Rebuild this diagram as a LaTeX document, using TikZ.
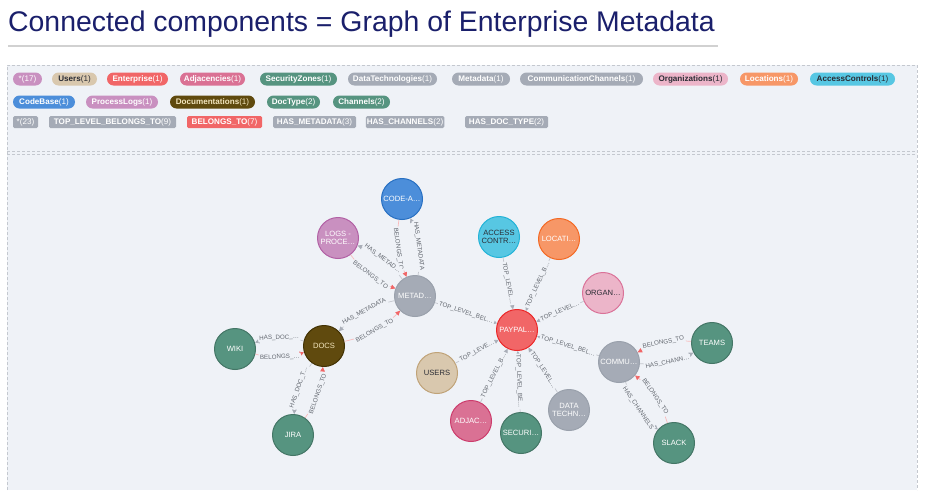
\documentclass[tikz,border=0pt]{standalone}
\usepackage{fontspec}
\setmainfont{Liberation Sans}
\usetikzlibrary{arrows.meta,calc}
\definecolor{panelbg}{HTML}{EFF2F7}
\definecolor{dashc}{HTML}{C4C8CF}
\definecolor{titleblue}{HTML}{1A1F6B}
\definecolor{cpurple}{HTML}{C990C0}\definecolor{cpurpleb}{HTML}{B261A5}
\definecolor{ctan}{HTML}{D9C8AE}\definecolor{ctanb}{HTML}{C0A378}
\definecolor{cred}{HTML}{F16667}\definecolor{credb}{HTML}{EB2728}
\definecolor{crose}{HTML}{DA7194}\definecolor{croseb}{HTML}{CC3C6C}
\definecolor{cgreen}{HTML}{569480}\definecolor{cgreenb}{HTML}{447666}
\definecolor{cgray}{HTML}{A5ABB6}\definecolor{cgrayb}{HTML}{9AA1AC}
\definecolor{cpink}{HTML}{ECB5C9}\definecolor{cpinkb}{HTML}{DA7298}
\definecolor{corange}{HTML}{F79767}\definecolor{corangeb}{HTML}{F36924}
\definecolor{ccyan}{HTML}{57C7E3}\definecolor{ccyanb}{HTML}{23B3D7}
\definecolor{cblue}{HTML}{4C8EDA}\definecolor{cblueb}{HTML}{2870C2}
\definecolor{cbrown}{HTML}{604A0E}\definecolor{cbrownb}{HTML}{423204}
\definecolor{darktxt}{HTML}{2A2C34}
\definecolor{creamtxt}{HTML}{F3E6BE}
\definecolor{lblgray}{HTML}{62676F}
\definecolor{edgegray}{HTML}{A9AEB8}
\begin{document}
\begin{tikzpicture}[x=1pt,y=-1pt,
  pill/.style={rounded corners=6.5pt, minimum height=13pt, inner xsep=1pt, inner ysep=0pt,
    font=\fontsize{8.1}{9}\selectfont, text=white},
  relbox/.style={rounded corners=1.5pt, minimum height=12pt, inner xsep=1pt, inner ysep=0pt,
    fill=cgray, font=\fontsize{8.1}{9}\selectfont, text=white},
  gnode/.style={circle, minimum size=41pt, inner sep=0pt, line width=1pt,
    font=\fontsize{7.6}{8.6}\selectfont, align=center, text=white},
  elbl/.style={sloped, midway, fill=panelbg, inner sep=1.2pt,
    font=\fontsize{6.2}{7}\selectfont, text=lblgray},
  edg/.style={draw=edgegray!70, line width=0.7pt, -{Triangle[length=4.5pt,width=4.5pt,color=edgegray]}},
  bel/.style={draw=cred!45, line width=0.7pt, -{Triangle[length=4.5pt,width=4.5pt,color=cred]}},
  dashline/.style={draw=dashc, line width=0.8pt, dash pattern=on 3pt off 2pt}]
\useasboundingbox (0,0) rectangle (950,490);
\fill[white] (0,0) rectangle (950,490);
\fill[panelbg] (7,65) rectangle (917,490);
\draw[dashline] (7,490) -- (7,65) -- (917,65) -- (917,490);
\draw[dashline] (7,151) -- (917,151);
\draw[dashline] (7,154) -- (917,154);
% title
\node[anchor=west, inner sep=0pt, text=titleblue, font=\fontsize{28.4}{32}\selectfont] (title) at (8,24) {Connected components = Graph of Enterprise Metadata};
\draw[black!18, line width=1.5pt] (8,46) -- (718,46);
% legend row 1
\node[pill, fill=cpurple, minimum width=29pt] (l1) at (27.5,79) {*(17)};
\node[pill, fill=ctan, text=darktxt, minimum width=45pt] (l2) at (74.5,79) {\textbf{Users}(1)};
\node[pill, fill=cred, minimum width=61pt] (l3) at (137.5,79) {\textbf{Enterprise}(1)};
\node[pill, fill=crose, minimum width=65pt] (l4) at (212.5,79) {\textbf{Adjacencies}(1)};
\node[pill, fill=cgreen, minimum width=77pt] (l5) at (298.5,79) {\textbf{SecurityZones}(1)};
\node[pill, fill=cgray, minimum width=89pt] (l6) at (392.5,79) {\textbf{DataTechnologies}(1)};
\node[pill, fill=cgray, minimum width=58pt] (l7) at (481,79) {\textbf{Metadata}(1)};
\node[pill, fill=cgray, minimum width=123pt] (l8) at (581.5,79) {\textbf{CommunicationChannels}(1)};
\node[pill, fill=cpink, text=darktxt, minimum width=75pt] (l9) at (690.5,79) {\textbf{Organizations}(1)};
\node[pill, fill=corange, minimum width=58pt] (l10) at (769,79) {\textbf{Locations}(1)};
\node[pill, fill=ccyan, text=darktxt, minimum width=85pt] (l11) at (852.5,79) {\textbf{AccessControls}(1)};
% legend row 2
\node[pill, fill=cblue, minimum width=62pt] (l12) at (44,102) {\textbf{CodeBase}(1)};
\node[pill, fill=cpurple, minimum width=72pt] (l13) at (122,102) {\textbf{ProcessLogs}(1)};
\node[pill, fill=cbrown, text=creamtxt, minimum width=85pt] (l14) at (212.5,102) {\textbf{Documentations}(1)};
\node[pill, fill=cgreen, minimum width=53pt] (l15) at (293.5,102) {\textbf{DocType}(2)};
\node[pill, fill=cgreen, minimum width=57pt] (l16) at (361.5,102) {\textbf{Channels}(2)};
% legend row 3
\node[relbox, minimum width=25pt] (r1) at (25.5,122) {*(23)};
\node[relbox, minimum width=127pt] (r2) at (112.5,122) {\textbf{TOP\_LEVEL\_BELONGS\_TO}(9)};
\node[relbox, fill=cred, minimum width=75pt] (r3) at (224.5,122) {\textbf{BELONGS\_TO}(7)};
\node[relbox, minimum width=83pt] (r4) at (314.5,122) {\textbf{HAS\_METADATA}(3)};
\node[relbox, minimum width=76pt] (r5) at (405,122) {\textbf{HAS\_CHANNELS}(2)};
\node[relbox, minimum width=83pt] (r6) at (506.5,122) {\textbf{HAS\_DOC\_TYPE}(2)};
% graph nodes
\node[gnode, fill=cblue, draw=cblueb] (code) at (402,199) {CODE-A…};
\node[gnode, fill=cpurple, draw=cpurpleb] (logs) at (338,238) {LOGS -\\PROCE…};
\node[gnode, fill=cgray, draw=cgrayb] (meta) at (415,296) {METAD…};
\node[gnode, fill=cred, draw=credb] (pay) at (517,330) {PAYPAL…};
\node[gnode, fill=ccyan, draw=ccyanb, text=darktxt] (acc) at (499,237) {ACCESS\\CONTR…};
\node[gnode, fill=corange, draw=corangeb] (loc) at (559,239) {LOCATI…};
\node[gnode, fill=cpink, draw=cpinkb, text=darktxt] (org) at (603,293) {ORGAN…};
\node[gnode, fill=cgray, draw=cgrayb] (comm) at (619,362) {COMMU…};
\node[gnode, fill=cgreen, draw=cgreenb] (teams) at (712,343) {TEAMS};
\node[gnode, fill=cgreen, draw=cgreenb] (slack) at (674,443) {SLACK};
\node[gnode, fill=cbrown, draw=cbrownb, text=creamtxt] (docs) at (324,346) {DOCS};
\node[gnode, fill=cgreen, draw=cgreenb] (wiki) at (235,349) {WIKI};
\node[gnode, fill=cgreen, draw=cgreenb] (jira) at (293,435) {JIRA};
\node[gnode, fill=ctan, draw=ctanb, text=darktxt] (users) at (437,373) {USERS};
\node[gnode, fill=crose, draw=croseb] (adj) at (471,421) {ADJAC…};
\node[gnode, fill=cgreen, draw=cgreenb] (sec) at (521,433) {SECURI…};
\node[gnode, fill=cgray, draw=cgrayb] (data) at (569,410) {DATA\\TECHN…};
% paired edges
\draw[bel] (code) to[bend right=16] node[elbl] {BELONGS\_TO} (meta);
\draw[edg] (meta) to[bend right=16] node[elbl] {HAS\_METADATA} (code);
\draw[bel] (logs) to[bend right=16] node[elbl] {BELONGS\_TO} (meta);
\draw[edg] (meta) to[bend right=16] node[elbl] {HAS\_METAD…} (logs);
\draw[bel] (docs) to[bend right=16] node[elbl] {BELONGS\_TO} (meta);
\draw[edg] (meta) to[bend right=16] node[elbl] {HAS\_METADATA} (docs);
\draw[edg] (docs) to[bend right=16] node[elbl] {HAS\_DOC\_…} (wiki);
\draw[bel] (wiki) to[bend right=16] node[elbl] {BELONGS\_…} (docs);
\draw[edg] (docs) to[bend right=16] node[elbl] {HAS\_DOC\_T…} (jira);
\draw[bel] (jira) to[bend right=16] node[elbl] {BELONGS\_TO} (docs);
\draw[bel] (teams) to[bend right=16] node[elbl] {BELONGS\_TO} (comm);
\draw[edg] (comm) to[bend right=16] node[elbl] {HAS\_CHANN…} (teams);
\draw[bel] (slack) to[bend right=16] node[elbl] {BELONGS\_TO} (comm);
\draw[edg] (comm) to[bend right=16] node[elbl] {HAS\_CHANNELS} (slack);
% top level edges
\draw[edg] (meta) -- node[elbl] {TOP\_LEVEL\_BEL…} (pay);
\draw[edg] (acc) -- node[elbl] {TOP\_LEVEL…} (pay);
\draw[edg] (loc) -- node[elbl] {TOP\_LEVEL\_B…} (pay);
\draw[edg] (org) -- node[elbl] {TOP\_LEVEL…} (pay);
\draw[edg] (comm) -- node[elbl] {TOP\_LEVEL\_BEL…} (pay);
\draw[edg] (users) -- node[elbl] {TOP\_LEVE…} (pay);
\draw[edg] (adj) -- node[elbl] {TOP\_LEVEL\_B…} (pay);
\draw[edg] (sec) -- node[elbl] {TOP\_LEVEL\_BE…} (pay);
\draw[edg] (data) -- node[elbl] {TOP\_LEVEL…} (pay);
\end{tikzpicture}
\end{document}
